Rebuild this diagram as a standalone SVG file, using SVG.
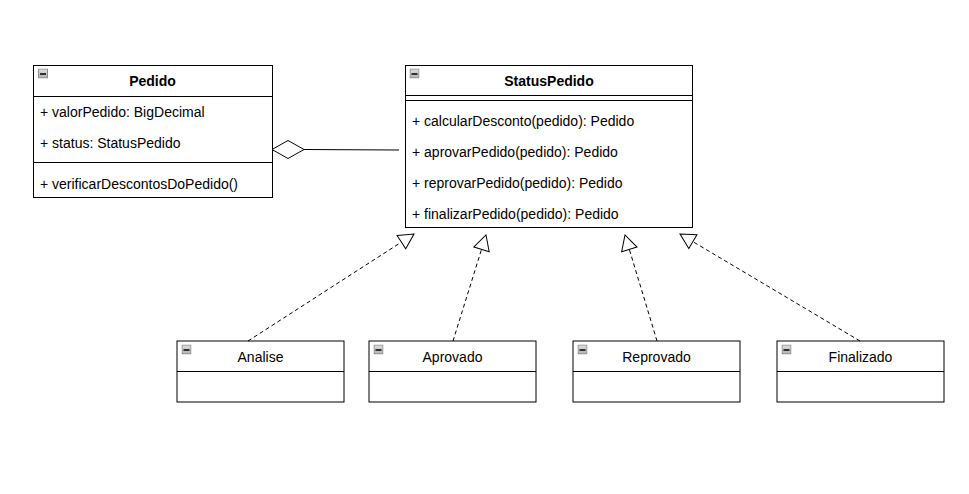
<svg xmlns="http://www.w3.org/2000/svg" xmlns:xlink="http://www.w3.org/1999/xlink" width="969" height="494" viewBox="0 0 969 494">
  <style>
    .box { fill: #ffffff; stroke: #000000; stroke-width: 1; }
    .sep { stroke: #000000; stroke-width: 1; fill: none; }
    text { font-family: "Liberation Sans", Arial, Helvetica, sans-serif; font-size: 14px; fill: #000000; }
    .title { font-weight: bold; text-anchor: middle; }
    .name { text-anchor: middle; }
    .dash { stroke: #000000; stroke-width: 1; fill: none; stroke-dasharray: 4 3; marker-end: url(#realize); }
    .assoc { stroke: #000000; stroke-width: 1; fill: none; }
  </style>
  <defs>
    <linearGradient id="iconFill" x1="0" y1="0" x2="0" y2="1">
      <stop offset="0" stop-color="#e0e0e0"/>
      <stop offset="1" stop-color="#b0b0b0"/>
    </linearGradient>
    <!-- collapse toggle shown in each class header -->
    <symbol id="collapse" viewBox="0 0 10 10" width="10" height="10">
      <rect x="0.5" y="0.5" width="9" height="9" fill="url(#iconFill)" stroke="#8c8c8c"/>
      <line x1="2" y1="5.5" x2="8" y2="5.5" stroke="#000000" stroke-width="1.4"/>
    </symbol>
    <!-- hollow triangle for realization arrows -->
    <marker id="realize" markerUnits="userSpaceOnUse" markerWidth="20" markerHeight="20" refX="15" refY="8" orient="auto" overflow="visible">
      <path d="M0,0 L15,8 L0,16 Z" fill="#ffffff" stroke="#000000" stroke-width="1"/>
    </marker>
  </defs>

  <!-- class Pedido -->
  <g id="pedido">
    <rect class="box" x="33.5" y="65.5" width="239" height="132"/>
    <line class="sep" x1="33" y1="96.5" x2="272" y2="96.5"/>
    <line class="sep" x1="33" y1="162.5" x2="272" y2="162.5"/>
    <use xlink:href="#collapse" x="38" y="68.5"/>
    <text class="title" x="152.5" y="86">Pedido</text>
    <text x="40" y="117">+ valorPedido: BigDecimal</text>
    <text x="40" y="147.5">+ status: StatusPedido</text>
    <text x="40" y="188.5">+ verificarDescontosDoPedido()</text>
  </g>

  <!-- class StatusPedido -->
  <g id="statusPedido">
    <rect class="box" x="405.5" y="65.5" width="287" height="162"/>
    <line class="sep" x1="405" y1="95.5" x2="692" y2="95.5"/>
    <line class="sep" x1="405" y1="100.5" x2="692" y2="100.5"/>
    <use xlink:href="#collapse" x="409.5" y="68.5"/>
    <text class="title" x="549" y="86">StatusPedido</text>
    <text x="412" y="126">+ calcularDesconto(pedido): Pedido</text>
    <text x="412" y="157">+ aprovarPedido(pedido): Pedido</text>
    <text x="412" y="188">+ reprovarPedido(pedido): Pedido</text>
    <text x="412" y="218.5">+ finalizarPedido(pedido): Pedido</text>
  </g>

  <!-- concrete states -->
  <g id="analise">
    <rect class="box" x="177" y="341" width="167" height="61"/>
    <line class="sep" x1="177" y1="371.5" x2="344" y2="371.5"/>
    <use xlink:href="#collapse" x="181.5" y="344.5"/>
    <text class="name" x="260.5" y="362">Analise</text>
  </g>
  <g id="aprovado">
    <rect class="box" x="369" y="341" width="167" height="61"/>
    <line class="sep" x1="369" y1="371.5" x2="536" y2="371.5"/>
    <use xlink:href="#collapse" x="373.5" y="344.5"/>
    <text class="name" x="452.5" y="362">Aprovado</text>
  </g>
  <g id="reprovado">
    <rect class="box" x="573" y="341" width="167" height="61"/>
    <line class="sep" x1="573" y1="371.5" x2="740" y2="371.5"/>
    <use xlink:href="#collapse" x="577.5" y="344.5"/>
    <text class="name" x="656.5" y="362">Reprovado</text>
  </g>
  <g id="finalizado">
    <rect class="box" x="777" y="341" width="167" height="61"/>
    <line class="sep" x1="777" y1="371.5" x2="944" y2="371.5"/>
    <use xlink:href="#collapse" x="781.5" y="344.5"/>
    <text class="name" x="860.5" y="362">Finalizado</text>
  </g>

  <!-- connectors -->
  <g id="connectors">
    <line class="assoc" x1="304" y1="149.5" x2="399" y2="150"/>
    <polygon points="272,149.5 288,140.5 304,149.5 288,158.5" fill="#ffffff" stroke="#000000" stroke-width="1"/>
    <line class="dash" x1="248" y1="341" x2="414" y2="234"/>
    <line class="dash" x1="453" y1="341" x2="486" y2="235"/>
    <line class="dash" x1="657" y1="341" x2="625" y2="235"/>
    <line class="dash" x1="860" y1="341" x2="680" y2="234"/>
  </g>
</svg>
